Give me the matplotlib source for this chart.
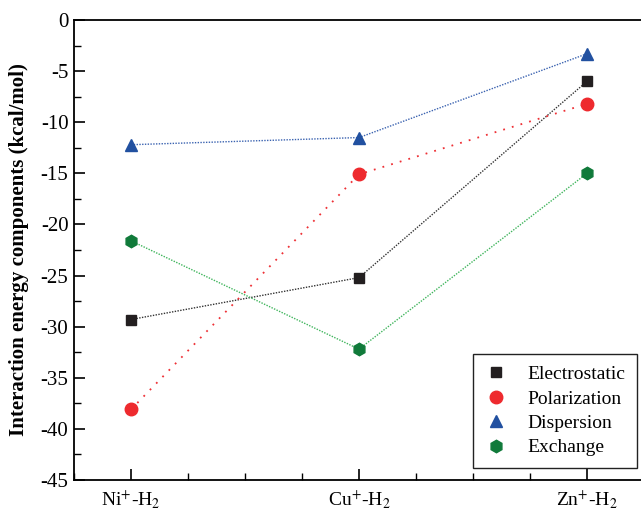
import matplotlib
matplotlib.use("Agg")
import matplotlib.pyplot as plt
from matplotlib.ticker import MultipleLocator

plt.rcParams['font.family'] = ['Liberation Serif', 'DejaVu Serif']
plt.rcParams['mathtext.fontset'] = 'stix'

categories = ["Ni$^{+}$-H$_{2}$", "Cu$^{+}$-H$_{2}$", "Zn$^{+}$-H$_{2}$"]
electrostatic = [-29.3, -25.2, -6.0]
polarization = [-38.1, -15.1, -8.2]
dispersion = [-12.2, -11.5, -3.3]
exchange = [-21.6, -32.2, -15.0]

x = [1, 2, 3]

fig = plt.figure(figsize=(6.41, 5.12), dpi=100)
ax = fig.add_axes([74/641, 32/512, 570/641, 460/512])

ax.plot(x, electrostatic, color='#333333', linestyle=(0, (1, 1)), linewidth=1.0,
        marker='s', markersize=7.5, markerfacecolor='#231f20', markeredgecolor='#231f20',
        label='Electrostatic')
ax.plot(x, polarization, color='#ee3035', linestyle=(0, (1, 4)), linewidth=1.3,
        marker='o', markersize=9, markerfacecolor='#ee2a2e', markeredgecolor='#ee2a2e',
        label='Polarization')
ax.plot(x, dispersion, color='#3a62b0', linestyle=(0, (1, 1)), linewidth=1.0,
        marker='^', markersize=9, markerfacecolor='#2150a0', markeredgecolor='#2150a0',
        label='Dispersion')
ax.plot(x, exchange, color='#3fb55c', linestyle=(0, (1, 1)), linewidth=1.0,
        marker='h', markersize=9, markerfacecolor='#107a3a', markeredgecolor='#107a3a',
        label='Exchange')

ax.set_xlim(0.75, 3.25)
ax.set_ylim(-45, 0)
ax.set_xticks(x)
ax.set_xticklabels(categories, fontsize=14)
ax.xaxis.set_minor_locator(MultipleLocator(0.25))
ax.yaxis.set_minor_locator(MultipleLocator(2.5))
ax.set_yticks(range(-45, 1, 5))
ax.set_yticklabels([str(v) for v in range(-45, 1, 5)], fontsize=15)
ax.tick_params(axis='both', which='major', direction='in', length=8, width=1.2, pad=6)
ax.tick_params(axis='y', which='major', pad=4)
ax.tick_params(axis='both', which='minor', direction='in', length=5, width=1.0)
ax.tick_params(top=False, right=False, which='both')
for s in ax.spines.values():
    s.set_linewidth(1.3)

ax.set_ylabel('Interaction energy components (kcal/mol)', fontsize=15, fontweight='bold', labelpad=8)

leg = ax.legend(loc='lower right', bbox_to_anchor=(637/641, (512-468)/512),
                bbox_transform=fig.transFigure, fontsize=14, frameon=True, fancybox=False,
                edgecolor='#222222', handlelength=1.2, handletextpad=1.0,
                labelspacing=0.35, borderpad=0.6, borderaxespad=0, framealpha=1)
leg.get_frame().set_linewidth(1.0)
for line in leg.get_lines():
    line.set_linestyle('None')

fig.savefig('out.png', dpi=100)
